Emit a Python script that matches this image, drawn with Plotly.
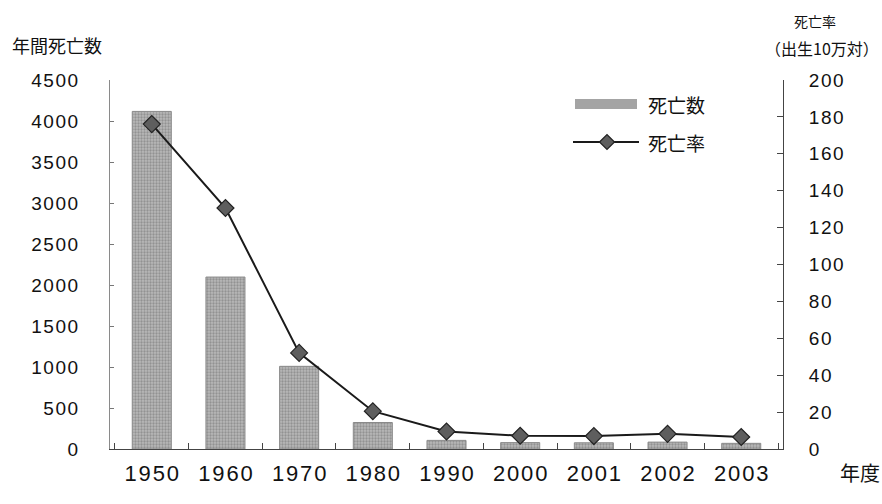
import plotly.graph_objects as go

# Maternal deaths per year and mortality rate (per 100,000 births)
years = ["1950", "1960", "1970", "1980", "1990", "2000", "2001", "2002", "2003"]
deaths = [4117, 2097, 1008, 323, 105, 78, 76, 84, 69]
rates = [176.1, 130.6, 52.1, 20.5, 9.5, 7.2, 7.0, 8.2, 6.5]

left_ticks = [0, 500, 1000, 1500, 2000, 2500, 3000, 3500, 4000, 4500]
right_ticks = [0, 20, 40, 60, 80, 100, 120, 140, 160, 180, 200]

W, H = 882, 504
ML, MR, MT, MB = 110, 99, 80, 55
PW, PH = W - ML - MR, H - MT - MB

HAIR = "\u200a"


def spaced(v, sep=HAIR):
    return sep.join(str(v))


def px(x):
    return (x - ML) / PW


def py(y):
    return (H - MB - y) / PH


num_font = dict(family="Liberation Sans", size=19, color="#111")
x_font = dict(family="Liberation Sans", size=22, color="#111")
jp = "Noto Sans CJK JP"
line_col = "#1a1a1a"
mark_fill = "#5e5e5e"

fig = go.Figure()
fig.add_trace(go.Bar(
    x=years, y=deaths, name="死亡数",
    marker=dict(color="#a8a8a8", line=dict(width=1, color="#8a8a8a"),
                pattern=dict(shape=".", fgcolor="#6c6c6c", bgcolor="#b8b8b8",
                             size=3, solidity=0.45)),
))
fig.add_trace(go.Scatter(
    x=years, y=rates, name="死亡率", yaxis="y2",
    mode="lines+markers",
    line=dict(color=line_col, width=2),
    marker=dict(symbol="diamond", size=13, color=mark_fill,
                line=dict(color="#222", width=1.2)),
))

# legend drawn by hand: wide bar swatch and line with a diamond
shapes = [
    dict(type="rect", xref="paper", yref="paper",
         x0=px(575), x1=px(637), y0=py(109), y1=py(99),
         fillcolor="#a4a4a4", line=dict(width=0)),
    dict(type="line", xref="paper", yref="paper",
         x0=px(573), x1=px(639), y0=py(142), y1=py(142),
         line=dict(color=line_col, width=2)),
]
cx, cy, r = 607, 142, 7.5
diamond = "M {},{} L {},{} L {},{} L {},{} Z".format(
    px(cx - r), py(cy), px(cx), py(cy - r), px(cx + r), py(cy), px(cx), py(cy + r))
shapes.append(dict(type="path", xref="paper", yref="paper", path=diamond,
                   fillcolor=mark_fill, line=dict(color="#222", width=1.2)))

texts = [
    ("死亡数", 646, 104, "left", 19),
    ("死亡率", 646, 142, "left", 19),
    ("年間死亡数", 10, 45, "left", 18),
    ("死亡率", 815, 21, "center", 14),
    ("（出生10万対）", 822, 48, "center", 16),
    ("年度", 860, 472, "center", 20),
]
annotations = [
    dict(text=t, x=px(x), y=py(y), xref="paper", yref="paper",
         xanchor=anc, yanchor="middle", showarrow=False,
         font=dict(family=jp, size=s, color="#111"))
    for t, x, y, anc, s in texts
]

fig.update_layout(
    width=W, height=H,
    margin=dict(l=ML, r=MR, t=MT, b=MB),
    paper_bgcolor="white", plot_bgcolor="white",
    bargap=0.47,
    showlegend=False,
    shapes=shapes,
    annotations=annotations,
    xaxis=dict(type="category", showline=True, linecolor="#444", linewidth=1,
               ticks="inside", tickson="boundaries", ticklen=6, tickcolor="#444",
               tickvals=years, ticktext=[spaced(y) for y in years],
               tickfont=x_font, showgrid=False, ticklabelstandoff=5),
    yaxis=dict(range=[0, 4500], tickvals=left_ticks,
               ticktext=[spaced(v) for v in left_ticks], showline=True,
               linecolor="#8a8a8a", linewidth=1, ticks="inside", ticklen=4,
               tickcolor="#777", tickfont=num_font, showgrid=False,
               zeroline=False, ticklabelstandoff=27),
    yaxis2=dict(range=[0, 200], tickvals=right_ticks,
                ticktext=[spaced(v) for v in right_ticks], overlaying="y",
                side="right", showline=True, linecolor="#444", linewidth=1,
                ticks="inside", ticklen=6, tickcolor="#444", tickfont=num_font,
                showgrid=False, zeroline=False, ticklabelstandoff=21),
)

fig.write_html("out.html")
